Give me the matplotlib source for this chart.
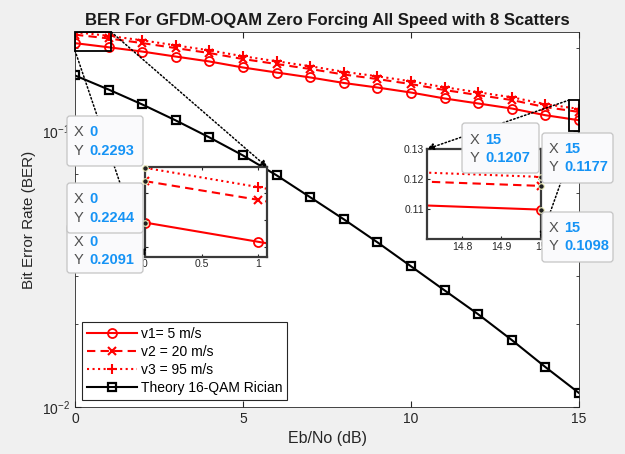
import matplotlib
matplotlib.use("Agg")
import matplotlib.pyplot as plt
from matplotlib.patches import Rectangle, FancyBboxPatch, ConnectionPatch

plt.rcParams['font.family'] = ['Liberation Sans', 'DejaVu Sans']

# ----------------------------------------------------------------------
# Data
# ----------------------------------------------------------------------
ebno = list(range(16))
ber_v1 = [0.2091, 0.2020, 0.1949, 0.1869, 0.1794, 0.1706, 0.1636, 0.1570,
          0.1499, 0.1443, 0.1384, 0.1317, 0.1263, 0.1211, 0.1145, 0.1098]
ber_v2 = [0.2244, 0.2175, 0.2092, 0.2006, 0.1925, 0.1831, 0.1756, 0.1685,
          0.1609, 0.1549, 0.1485, 0.1413, 0.1355, 0.1300, 0.1225, 0.1177]
ber_v3 = [0.2293, 0.2222, 0.2141, 0.2052, 0.1969, 0.1874, 0.1797, 0.1724,
          0.1646, 0.1585, 0.1520, 0.1446, 0.1387, 0.1330, 0.1256, 0.1207]
ber_theory = [0.1596, 0.1419, 0.1253, 0.1096, 0.0951, 0.0818, 0.0693, 0.0577,
              0.0480, 0.0396, 0.0324, 0.0265, 0.0217, 0.0175, 0.01396, 0.01124]
labels = ["v1= 5 m/s", "v2 = 20 m/s", "v3 = 95 m/s", "Theory 16-QAM Rician"]

W, H = 625, 454
AXC = '#262626'
TIPBLUE = '#1593f5'


def fig_box(x0, y0, x1, y1):
    # pixel box (top-left origin) -> figure fraction rect
    return [x0 / W, 1 - y1 / H, (x1 - x0) / W, (y1 - y0) / H]


def draw_curves(a):
    a.plot(ebno, ber_v1, '-', color='r', lw=1.5, marker='o', ms=6.5,
           mfc='none', mew=1.3, label=labels[0])
    a.plot(ebno, ber_v2, '--', color='r', lw=1.5, marker='x', ms=6,
           mew=1.5, dashes=(4, 2.5), label=labels[1])
    a.plot(ebno, ber_v3, ':', color='r', lw=1.5, marker='+', ms=7,
           mew=1.5, label=labels[2])
    a.plot(ebno, ber_theory, '-', color='k', lw=1.5, marker='s', ms=5.5,
           mfc='none', mew=1.6, label=labels[3])


def style_axes(a, lw=0.6, col=AXC, fs=10):
    for s in a.spines.values():
        s.set_color(col)
        s.set_linewidth(lw)
    a.tick_params(which='both', direction='in', top=True, right=True,
                  colors=AXC, labelsize=fs, labelcolor='#262626')


fig = plt.figure(figsize=(W / 100, H / 100), dpi=100, facecolor='#f0f0f0')

# ----------------------------------------------------------------------
# Main axes
# ----------------------------------------------------------------------
ax = fig.add_axes(fig_box(75, 32, 579, 407))
draw_curves(ax)
ax.set_yscale('log')
ax.set_xlim(0, 15)
ax.set_ylim(0.01, 0.2295)
ax.set_xticks([0, 5, 10, 15])
style_axes(ax)
ax.tick_params(which='major', length=4)
ax.tick_params(which='minor', length=2.2)
ax.set_title("BER For GFDM-OQAM Zero Forcing All Speed with 8 Scatters",
             fontsize=12, fontweight='bold', pad=5, color='#1a1a1a')
ax.set_xlabel("Eb/No (dB)", fontsize=11.5, color='#262626')
ax.set_ylabel("Bit Error Rate (BER)", fontsize=11, color='#262626')

leg = ax.legend(loc='lower left', bbox_to_anchor=(0.014, 0.019),
                borderaxespad=0, fontsize=10, handlelength=3.6,
                handletextpad=0.3, labelspacing=0.28, borderpad=0.35,
                fancybox=False, framealpha=1)
leg.get_frame().set_edgecolor(AXC)
leg.get_frame().set_linewidth(0.8)

# zoom regions
z1_x, z1_y = (0, 1.08), (0.1965, 0.2295)
z2_x, z2_y = (14.71, 15), (0.1, 0.13)
for zx, zy in [(z1_x, z1_y), (z2_x, z2_y)]:
    ax.add_patch(Rectangle((zx[0], zy[0]), zx[1] - zx[0], zy[1] - zy[0],
                           fill=False, ec='k', lw=1.3, clip_on=False, zorder=5))

# ----------------------------------------------------------------------
# Inset axes
# ----------------------------------------------------------------------
ax1 = fig.add_axes(fig_box(145, 167.3, 267.3, 256.7))
draw_curves(ax1)
ax1.set_xlim(*z1_x)
ax1.set_ylim(*z1_y)
ax1.set_xticks([0, 0.5, 1])
ax1.set_xticklabels(['0', '0.5', '1'])
ax1.set_yticks([0.2, 0.21, 0.22])
style_axes(ax1, lw=1.6, col='#3a3a3a', fs=7.5)
ax1.tick_params(length=2.5, pad=2)

ax2 = fig.add_axes(fig_box(427, 149, 540.7, 239))
draw_curves(ax2)
ax2.set_xlim(*z2_x)
ax2.set_ylim(*z2_y)
ax2.set_xticks([14.8, 14.9, 15])
ax2.set_xticklabels(['14.8', '14.9', '15'])
ax2.set_yticks([0.11, 0.12, 0.13])
style_axes(ax2, lw=1.6, col='#3a3a3a', fs=7.5)
ax2.tick_params(length=2.5, pad=2)

# dotted connectors from the zoom boxes to the insets
links = [((z1_x[1], z1_y[1]), ax1, (1, 1)),
         ((z1_x[0], z1_y[0]), ax1, (0, 0)),
         ((z2_x[0], z2_y[1]), ax2, (0, 1)),
         ((z2_x[1], z2_y[0]), ax2, (1, 0))]
for xy, axin, xyb in links:
    con = ConnectionPatch(xyA=xy, coordsA=ax.transData, xyB=xyb,
                          coordsB=axin.transAxes, arrowstyle='-|>',
                          linestyle=(0, (1, 1.5)), color='k', lw=1.1,
                          mutation_scale=10, zorder=6)
    fig.add_artist(con)

# datatip markers
for axin, xv, ys in [(ax1, ebno[0], [ber_v3[0], ber_v2[0], ber_v1[0]]),
                     (ax2, ebno[-1], [ber_v3[-1], ber_v2[-1], ber_v1[-1]])]:
    axin.plot([xv] * 3, ys, 'o', ms=4, mfc='#202020', mec='#f2f2c0',
              mew=0.8, clip_on=False, zorder=20, ls='none')

# ----------------------------------------------------------------------
# Data tips
# ----------------------------------------------------------------------
tips = [
    # box (x0, y0, x1, y1), y of X row, y of Y row, x of letter, x of value
    ((67, 116, 143, 166), 132.3, 150.7, 74, 89, ebno[0], ber_v3[0]),
    ((67, 224, 143, 273), 241.7, 259.8, 74, 89, ebno[0], ber_v1[0]),
    ((67, 183, 143, 233), 199.3, 218.3, 74, 89, ebno[0], ber_v2[0]),
    ((462, 123, 539, 173), 140, 158, 470, 485, ebno[-1], ber_v3[-1]),
    ((542, 133, 613, 183), 149.3, 167, 549, 564, ebno[-1], ber_v2[-1]),
    ((542, 212, 613, 262), 228, 246, 549, 564, ebno[-1], ber_v1[-1]),
]
z = 30
for (x0, y0, x1, y1), yx, yy, xl, xv, tx, ty in tips:
    box = FancyBboxPatch((x0 / 100, (H - y1) / 100), (x1 - x0) / 100,
                         (y1 - y0) / 100,
                         boxstyle='round,pad=0,rounding_size=0.03',
                         transform=fig.dpi_scale_trans, fc='#fafafc',
                         ec='#c4c4c4', lw=0.9, zorder=z)
    fig.add_artist(box)
    for yrow, letter, val in [(yx, 'X', f"{tx:g}"), (yy, 'Y', f"{ty:.4g}")]:
        fig.text(xl / W, 1 - yrow / H, letter, fontsize=10.5, color='#505050',
                 ha='left', va='center', zorder=z + 1)
        fig.text(xv / W, 1 - yrow / H, val, fontsize=10.5, color=TIPBLUE,
                 fontweight='bold', ha='left', va='center', zorder=z + 1)
    z += 2

fig.savefig("out.png", dpi=100, facecolor=fig.get_facecolor())
